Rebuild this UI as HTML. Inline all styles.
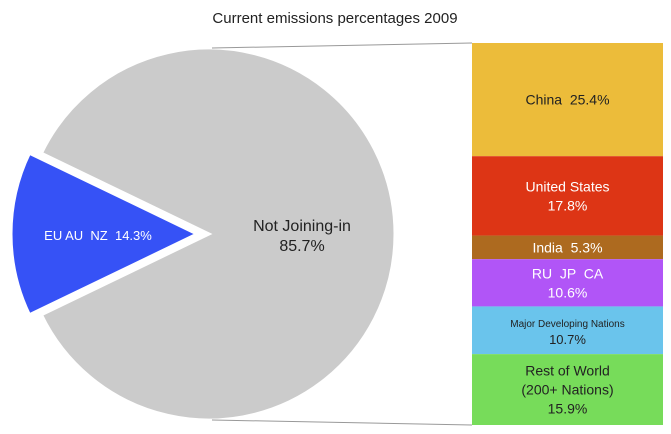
<!DOCTYPE html>
<html><head><meta charset="utf-8"><style>
html,body{margin:0;padding:0;background:#fff;width:671px;height:434px;overflow:hidden}
svg text{font-family:"Liberation Sans",sans-serif;white-space:pre}
</style></head><body>
<svg id="chart" width="671" height="434">
<text x="335" y="23" text-anchor="middle" font-size="15" fill="#222">Current emissions percentages 2009</text>
<g id="pie"></g>
<g id="bar"></g>
</svg>
<script>
const pieLabels=["EU AU  NZ","Not Joining-in"];
const pieValues=[14.3,85.7];
const barLabels=[["China  25.4%"],["United States","17.8%"],["India  5.3%"],["RU  JP  CA","10.6%"],["Major Developing Nations","10.7%"],["Rest of World","(200+ Nations)","15.9%"]];
const barValues=[25.4,17.8,5.3,10.6,10.7,15.9];
const barColors=["#ecbc3a","#dd3515","#ad6a1f","#b155f7","#6ac4ec","#77dc5a"];
const barText=["#222","#fff","#fff","#fff","#222","#222"];
const NS="http://www.w3.org/2000/svg";
function mk(t,a,p){const e=document.createElementNS(NS,t);for(const k in a)e.setAttribute(k,a[k]);p.appendChild(e);return e;}
const pie=document.getElementById('pie'),bar=document.getElementById('bar');
const cx=209,cy=234,R=186,total=pieValues[0]+pieValues[1];
const half=pieValues[0]/total*Math.PI;
function pt(a,r,ox){return [cx+ox+r*Math.cos(a),cy+r*Math.sin(a)];}
let a0=Math.PI+half,a1=Math.PI-half+2*Math.PI;
let s=pt(a0,R,0),e=pt(a1-2*Math.PI,R,0);
const g=mk('path',{d:`M${cx},${cy} L${s[0]},${s[1]} A${R},${R} 0 1 1 ${e[0]},${e[1]} Z`,fill:'#cbcbcb',stroke:'#fff','stroke-width':3},pie);


const off=-12;
s=pt(Math.PI-half,R,off);e=pt(Math.PI+half,R,off);
const b=mk('path',{d:`M${cx+off},${cy} L${s[0]},${s[1]} A${R},${R} 0 0 1 ${e[0]},${e[1]} Z`,fill:'#3652f6',stroke:'#fff','stroke-width':3},pie);


let t=mk('text',{x:98,y:240,'text-anchor':'middle','font-size':13,fill:'#fff'},pie);t.textContent=pieLabels[0]+"  "+pieValues[0].toFixed(1)+"%";


t=mk('text',{x:302,y:231,'text-anchor':'middle','font-size':16,fill:'#222'},pie);t.textContent=pieLabels[1];


t=mk('text',{x:302,y:251,'text-anchor':'middle','font-size':16,fill:'#222'},pie);t.textContent=pieValues[1].toFixed(1)+"%";


const bx=472,bw=191,by0=43,by1=425;
let l=mk('line',{x1:212,y1:48,x2:bx,y2:by0,stroke:'#999','stroke-width':1},pie);


l=mk('line',{x1:212,y1:420,x2:bx,y2:by1,stroke:'#999','stroke-width':1},pie);


const sum=barValues.reduce((a,b)=>a+b,0);
function ys(v){return (by1-by0)*v/sum;}
let y=by0;
barValues.forEach((v,i)=>{
  const h=ys(v);
  const r=mk('rect',{x:bx,y:y,width:bw,height:h,fill:barColors[i]},bar);
  
  
  const lines=barLabels[i],fs=i===4?10:14,lh=i===4?17:19;
  const mid=y+h/2-(lines.length-1)*lh/2+5;
  lines.forEach((ln,j)=>{
    const tt=mk('text',{x:bx+bw/2,y:mid+j*lh,'text-anchor':'middle','font-size':(i===4&&j===1)?13:fs,fill:barText[i]},bar);
    tt.textContent=ln;
    
    
  });
  y+=h;
});
</script>
</body></html>
